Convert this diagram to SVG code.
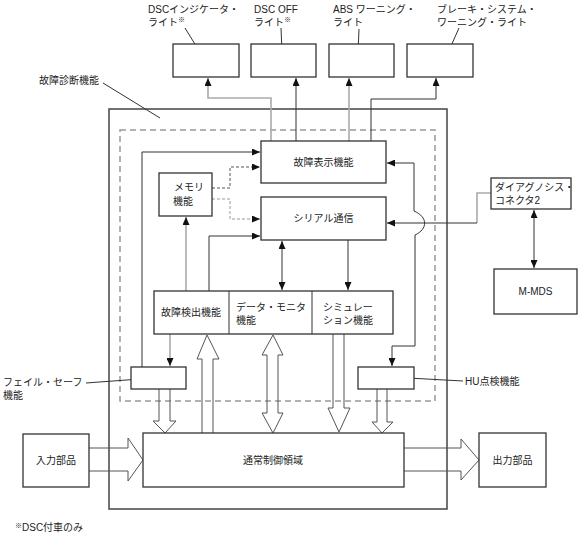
<svg xmlns="http://www.w3.org/2000/svg" width="580" height="537" viewBox="0 0 580 537">
<style>
text{font-family:"Liberation Sans","Noto Sans CJK JP",sans-serif;font-size:10px;fill:#222}
.c{text-anchor:middle}
.box{fill:#fff;stroke:#333;stroke-width:1.3}
.ln{fill:none;stroke:#333;stroke-width:1}
.gl{fill:none;stroke:#aaa;stroke-width:1.6}
.dl{fill:none;stroke:#555;stroke-width:1;stroke-dasharray:3,2}
.dg{fill:none;stroke:#999;stroke-width:1;stroke-dasharray:3,2}
.ha{fill:none;stroke:#555;stroke-width:1}
.sup{font-size:7px}
</style>
<defs>
<marker id="ah" markerUnits="userSpaceOnUse" markerWidth="8" markerHeight="7" refX="8" refY="3.5" orient="auto-start-reverse">
<path d="M0,0 L8,3.5 L0,7 z" fill="#111"/>
</marker>
</defs>

<g id="frames">
<rect id="outer" x="109" y="109" width="338" height="400" fill="none" stroke="#444" stroke-width="1.5"/>
<rect id="dashed" x="120" y="130" width="315" height="271" fill="none" stroke="#999" stroke-width="1.5" stroke-dasharray="6,4"/>
</g>

<g id="labels">
<text x="148" y="13">DSCインジケータ・</text>
<text x="148" y="26">ライト<tspan class="sup" dy="-4">※</tspan></text>
<text x="254" y="13">DSC OFF</text>
<text x="254" y="26">ライト<tspan class="sup" dy="-4">※</tspan></text>
<text x="333" y="13">ABS ワーニング・</text>
<text x="333" y="26">ライト</text>
<text x="437" y="13">ブレーキ・システム・</text>
<text x="437" y="26">ワーニング・ライト</text>
<text x="39" y="84">故障診断機能</text>
<text x="3" y="386">フェイル・セーフ</text>
<text x="3" y="399">機能</text>
<text x="465" y="385">HU点検機能</text>
<text x="15" y="531"><tspan class="sup" dy="-3">※</tspan><tspan dy="3">DSC付車のみ</tspan></text>
</g>

<g id="leaders" class="ln">
<line x1="185" y1="28" x2="198" y2="49" class="ln"/>
<line x1="281" y1="28" x2="282" y2="52" class="ln"/>
<line x1="359" y1="29" x2="358" y2="53" class="ln"/>
<line x1="459" y1="28" x2="447" y2="55" class="ln"/>
<line x1="103" y1="83" x2="160" y2="118" class="ln"/>
<line x1="86" y1="383" x2="140" y2="379" class="ln"/>
<line x1="408" y1="378" x2="463" y2="381" class="ln"/>
</g>

<g id="connectors">
<path class="gl" d="M271,141 V98 H208 V78" marker-end="url(#ah)"/>
<path class="ln" d="M296,141 V78" marker-end="url(#ah)"/>
<path class="gl" d="M349,141 V78" marker-end="url(#ah)"/>
<path class="ln" d="M371,141 V99 H436 V78" marker-end="url(#ah)"/>
<path class="ln" d="M142,367 V152 H260" marker-end="url(#ah)"/>
<path class="dl" d="M212,188 H230 V167 H260" marker-end="url(#ah)"/>
<path class="dg" d="M212,199 H230 V219 H260" marker-end="url(#ah)"/>
<path class="ln" d="M209,291 V236 H260" marker-end="url(#ah)"/>
<path class="gl" d="M186,291 V217" marker-end="url(#ah)"/>
<path class="ln" d="M282,241 V290" marker-start="url(#ah)" marker-end="url(#ah)"/>
<path class="ln" d="M348,240 V290" marker-end="url(#ah)"/>
<path class="gl" d="M170,334 V366" marker-end="url(#ah)"/>
<path class="ln" d="M387,163 H414 V211 C428,217 428,229 415,235 V346 H392 V366" marker-start="url(#ah)" marker-end="url(#ah)"/>
<path class="gl" d="M491,193 H477 V223"/>
<path class="ln" d="M477,223 H387" marker-end="url(#ah)"/>
<path class="ln" d="M534,210 V268" marker-start="url(#ah)" marker-end="url(#ah)"/>
<path class="ha" d="M159,389 V421 H153 L165,433 L176,421 H170 V389"/>
<path class="ha" d="M202,433 V359 H197 L207,335 L219,359 H213 V433"/>
<path class="ha" d="M267,355 H262 L273,335 L283,355 H278 V413 H283 L273,433 L262,413 H267 Z"/>
<path class="ha" d="M333,334 V408 H328 L339,432 L350,408 H344 V334"/>
<path class="ha" d="M377,389 V422 H372 L382,433 L393,422 H387 V389"/>
<path class="ha" d="M89,448 H128 V438 L143,460 L128,481 V471 H89"/>
<path class="ha" d="M404,448 H461 V439 L479,460 L461,480 V471 H404"/>
</g>

<g id="n-dsc-ind"><rect class="box" x="173" y="44" width="66" height="33"/></g>
<g id="n-dsc-off"><rect class="box" x="251" y="44" width="65" height="33"/></g>
<g id="n-abs"><rect class="box" x="329" y="44" width="65" height="33"/></g>
<g id="n-brake"><rect class="box" x="407" y="44" width="66" height="33"/></g>

<g id="n-display"><rect class="box" x="261" y="141" width="125" height="42"/><text class="c" x="323.5" y="166">故障表示機能</text></g>
<g id="n-serial"><rect class="box" x="261" y="197" width="125" height="43"/><text class="c" x="323.5" y="222">シリアル通信</text></g>
<g id="n-memory"><rect class="box" x="159" y="173" width="53" height="43"/><text x="174" y="191">メモリ</text><text x="173" y="205">機能</text></g>

<g id="n-detect">
<rect class="box" x="154" y="291" width="239" height="43"/>
<line x1="229" y1="291" x2="229" y2="334" stroke="#333" stroke-width="1"/>
<line x1="312" y1="291" x2="312" y2="334" stroke="#333" stroke-width="1"/>
<text x="161" y="316">故障検出機能</text>
<text x="236" y="311">データ・モニタ</text>
<text x="236" y="324">機能</text>
<text x="323" y="311">シミュレー</text>
<text x="323" y="324">ション機能</text>
</g>

<g id="n-failsafe"><rect class="box" x="131" y="367" width="55" height="22"/></g>
<g id="n-hu"><rect class="box" x="358" y="367" width="56" height="22"/></g>

<g id="n-normal"><rect class="box" x="143" y="433" width="261" height="54"/><text class="c" x="273" y="464">通常制御領域</text></g>
<g id="n-input"><rect class="box" x="23" y="434" width="66" height="53"/><text class="c" x="56" y="464">入力部品</text></g>
<g id="n-output"><rect class="box" x="479" y="433" width="67" height="54"/><text class="c" x="512.5" y="464">出力部品</text></g>

<g id="n-connector"><rect class="box" x="491" y="178" width="80" height="31"/><text x="495" y="191">ダイアグノシス・</text><text x="495" y="204">コネクタ2</text></g>
<g id="n-mmds"><rect class="box" x="494" y="269" width="83" height="45"/><text class="c" x="535.5" y="295">M-MDS</text></g>
</svg>
